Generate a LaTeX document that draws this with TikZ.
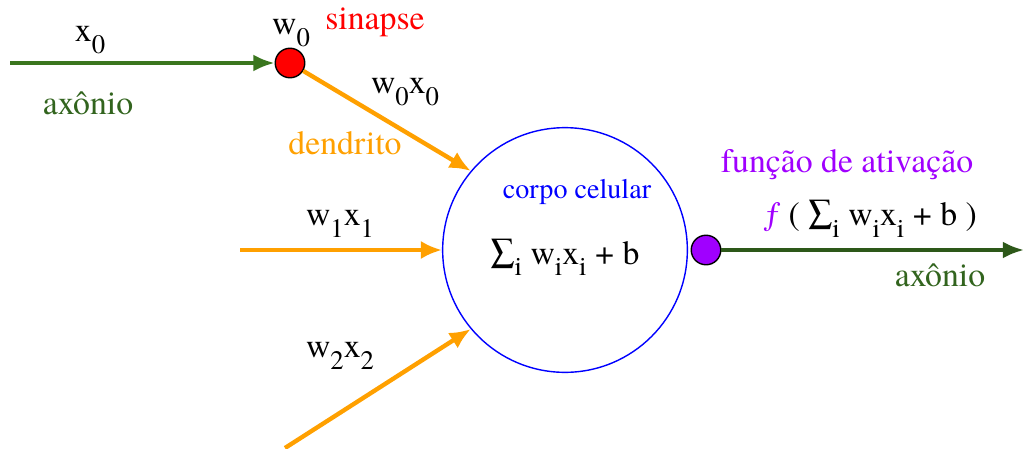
\documentclass[tikz,border=0pt]{standalone}
\usepackage{fontspec}
\setmainfont{texgyretermes}[Extension=.otf, UprightFont=*-regular, ItalicFont=*-italic, BoldFont=*-bold]
\usetikzlibrary{arrows.meta}
\definecolor{gA}{RGB}{58,118,30}
\definecolor{gB}{RGB}{45,88,25}
\definecolor{gT}{RGB}{50,100,30}
\definecolor{orng}{RGB}{255,160,0}
\definecolor{purp}{RGB}{160,0,255}
\newcommand{\sbs}[1]{\raisebox{-0.75ex}{\fontsize{19}{19}\selectfont #1}}
\tikzset{
  lbl/.style={inner sep=0pt, font=\fontsize{24}{24}\selectfont},
  small/.style={inner sep=0pt, font=\fontsize{20}{20}\selectfont},
  axon/.style={line width=2.6pt, -{Latex[length=15pt,width=12pt]}},
  dend/.style={orng, line width=3.1pt, -{Latex[length=15pt,width=13pt]}},
  syn/.style={circle, draw=black, line width=1pt, minimum size=21pt, inner sep=0pt},
}
\begin{document}
\begin{tikzpicture}[x=0.025cm,y=-0.025cm]
\useasboundingbox (0,0) rectangle (1024,448);
% nodes
\node[syn, fill=red] (s0) at (290,63) {};
\node[circle, draw=blue, line width=1pt, minimum size=174pt, inner sep=0pt] (body) at (565,250) {};
\node[syn, fill=purp] (s1) at (706,250) {};
\coordinate (in0) at (10,63);
\coordinate (in1) at (240,250);
\coordinate (in2) at (285,448);
\coordinate (out) at (1024,250);
% connectors
\draw[axon, gA] (in0) -- (s0);
\draw[dend] (s0) -- (body.140);
\draw[dend] (in1) -- (body.west);
\draw[dend] (in2) -- (body.-140);
\draw[axon, gB] (s1) -- (out);
% labels
\node[lbl] (lx0) at (90,40) {x\sbs{0}};
\node[lbl, gT] (lax0) at (88,103) {axônio};
\node[lbl] (lw0) at (291,33) {w\sbs{0}};
\node[lbl, red] (lsin) at (375,22) {sinapse};
\node[lbl] (lw0x0) at (405,92) {w\sbs{0}x\sbs{0}};
\node[lbl, orng] (lden) at (345,143) {dendrito};
\node[lbl] (lw1x1) at (340,224) {w\sbs{1}x\sbs{1}};
\node[lbl] (lw2x2) at (340,356) {w\sbs{2}x\sbs{2}};
\node[small, blue] (lcc) at (577,192) {corpo celular};
\node[lbl] (lsum) at (565,257) {∑\sbs{i} w\sbs{i}x\sbs{i} + b};
\node[lbl, purp] (lfa) at (847,165) {função de ativação};
\node[lbl] (lf) at (870,219) {\textcolor{purp}{\textit{ƒ}} ( ∑\sbs{i} w\sbs{i}x\sbs{i} + b )};
\node[lbl, gT] (lax1) at (940,275) {axônio};
\end{tikzpicture}
\end{document}
